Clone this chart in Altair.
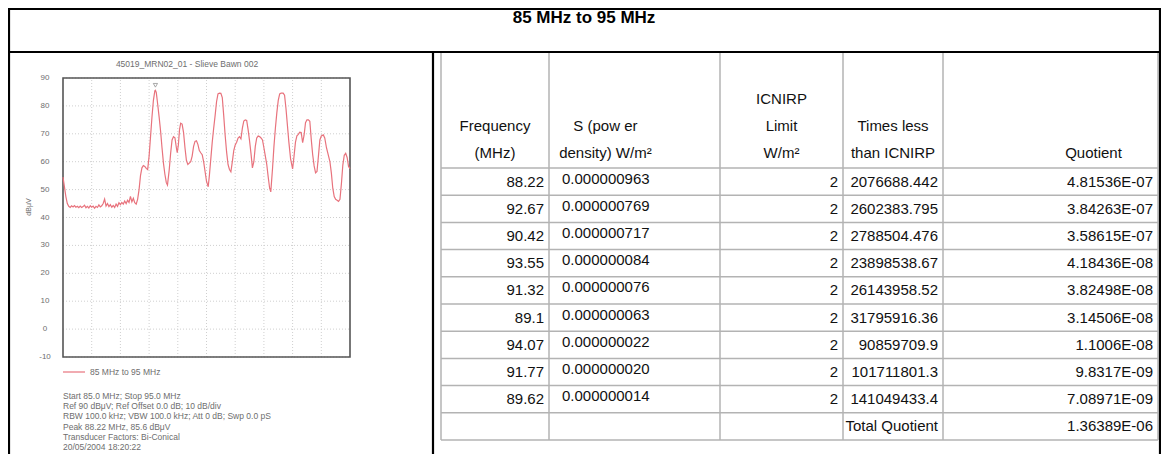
import altair as alt
import pandas as pd

# ---------------- spectrum trace ----------------
freq_mhz = [
    85.00, 85.05, 85.10, 85.15, 85.20, 85.25, 85.30, 85.35, 85.40, 85.45,
    85.50, 85.55, 85.60, 85.65, 85.70, 85.75, 85.80, 85.85, 85.90, 85.95,
    86.00, 86.05, 86.10, 86.15, 86.20, 86.25, 86.30, 86.35, 86.40, 86.45,
    86.50, 86.55, 86.60, 86.65, 86.70, 86.75, 86.80, 86.85, 86.90, 86.95,
    87.00, 87.05, 87.10, 87.15, 87.20, 87.25, 87.30, 87.35, 87.40, 87.45,
    87.50, 87.55, 87.60, 87.65, 87.70, 87.75, 87.80, 87.85, 87.90, 87.95,
    88.00, 88.05, 88.10, 88.15, 88.20, 88.22, 88.25, 88.30, 88.35, 88.40,
    88.45, 88.50, 88.55, 88.60, 88.64, 88.70, 88.75, 88.80, 88.85, 88.90,
    88.95, 88.98, 89.02, 89.06, 89.10, 89.15, 89.20, 89.25, 89.30, 89.35,
    89.40, 89.45, 89.50, 89.55, 89.60, 89.65, 89.70, 89.75, 89.80, 89.85,
    89.90, 89.95, 90.00, 90.06, 90.10, 90.15, 90.20, 90.25, 90.30, 90.35,
    90.40, 90.45, 90.50, 90.55, 90.60, 90.65, 90.70, 90.75, 90.80, 90.85,
    90.90, 90.95, 91.00, 91.05, 91.10, 91.15, 91.20, 91.25, 91.30, 91.35,
    91.40, 91.45, 91.50, 91.55, 91.60, 91.65, 91.70, 91.75, 91.80, 91.85,
    91.90, 91.95, 92.00, 92.05, 92.10, 92.15, 92.20, 92.24, 92.30, 92.35,
    92.40, 92.45, 92.50, 92.55, 92.60, 92.67, 92.72, 92.77, 92.82, 92.87,
    92.93, 93.00, 93.05, 93.10, 93.15, 93.20, 93.25, 93.30, 93.35, 93.40,
    93.45, 93.50, 93.55, 93.60, 93.65, 93.70, 93.75, 93.80, 93.85, 93.90,
    93.95, 94.00, 94.07, 94.12, 94.18, 94.24, 94.30, 94.35, 94.40, 94.45,
    94.50, 94.55, 94.60, 94.65, 94.70, 94.75, 94.80, 94.85, 94.90, 94.95,
    95.00,
]
level_dbuv = [
    54.5, 51.0, 47.5, 45.0, 44.0, 43.6, 44.2, 43.8, 44.3, 43.7,
    44.0, 43.5, 44.1, 43.6, 43.9, 44.4, 43.5, 44.0, 43.4, 44.2,
    43.7, 44.1, 43.3, 44.0, 43.6, 44.5, 43.8, 44.2, 45.0, 46.6,
    44.1, 45.0, 43.9, 44.6, 43.7, 44.3, 43.6, 44.8, 44.0, 45.3,
    44.6, 45.4, 44.8, 45.9, 45.0, 46.2, 45.4, 47.6, 45.6, 46.9,
    45.3, 44.8, 46.5, 50.0, 55.0, 57.8, 58.6, 58.3, 57.6, 57.2,
    62.0, 69.0, 76.0, 82.0, 85.4, 85.6, 84.8, 80.5, 76.0, 71.0,
    65.0, 59.5, 55.5, 52.5, 51.6, 57.0, 63.0, 67.8, 69.0, 68.6,
    65.0, 63.2, 66.0, 71.5, 73.8, 73.5, 70.5, 65.0, 60.5, 59.0,
    59.5, 60.0, 62.0, 65.5, 67.3, 67.5, 66.2, 64.0, 63.2, 62.5,
    60.0, 56.5, 53.0, 51.0, 55.0, 61.0, 67.0, 72.0, 76.5, 81.5,
    84.3, 84.6, 84.5, 83.0, 76.5, 69.5, 63.5, 59.0, 57.2, 56.4,
    60.0, 64.0, 66.0, 67.0, 68.5, 69.0, 68.2, 72.0, 74.6, 75.0,
    74.8, 71.5, 67.5, 63.0, 57.8, 60.0, 65.5, 68.5, 69.2, 69.0,
    68.5, 67.8, 65.0, 62.0, 59.0, 54.5, 50.5, 49.2, 57.5, 65.5,
    72.0, 77.5, 82.0, 84.3, 84.6, 84.6, 83.8, 79.0, 73.0, 67.0,
    61.0, 57.4, 62.0, 67.0, 69.3, 69.8, 70.6, 70.5, 66.8, 69.5,
    74.0, 75.0, 75.0, 74.5, 68.0, 62.5, 58.5, 56.0, 56.5, 62.0,
    67.8, 69.2, 69.6, 68.5, 65.0, 62.5, 60.0, 56.0, 50.5, 47.5,
    46.5, 46.2, 45.8, 46.5, 52.0, 58.8, 62.3, 63.0, 61.5, 58.3,
    57.5,
]
peak_freq = [88.22]
peak_level = [85.6]
freq_start, freq_stop = 85.0, 95.0
level_bottom, level_top = -10, 90
level_ticks = [-10, 0, 10, 20, 30, 40, 50, 60, 70, 80, 90]
level_tick_labels = ["-10", "0", "10", "20", "30", "40", "50", "60", "70", "80", "90"]
freq_grid = [86, 87, 88, 89, 90, 91, 92, 93, 94]

page_title = "85 MHz to 95 MHz"
series_name = "85 MHz to 95 MHz"
plot_title = "45019_MRN02_01 - Slieve Bawn 002"
y_title = "dBμV"
info_lines = [
    "Start 85.0 MHz; Stop 95.0 MHz",
    "Ref 90 dBμV; Ref Offset 0.0 dB; 10 dB/div",
    "RBW 100.0 kHz; VBW 100.0 kHz; Att 0 dB; Swp 0.0 pS",
    "Peak 88.22 MHz, 85.6 dBμV",
    "Transducer Factors: Bi-Conical",
    "20/05/2004 18:20:22",
]

# ---------------- table ----------------
header_col1 = ["", "Frequency", "(MHz)"]
header_col2 = ["", "S (pow er", "density) W/m²"]
header_col3 = ["ICNIRP", "Limit", "W/m²"]
header_col4 = ["", "Times less", "than ICNIRP"]
header_col5 = ["", "", "Quotient"]
tbl_freq = ["88.22", "92.67", "90.42", "93.55", "91.32", "89.1", "94.07", "91.77", "89.62"]
tbl_density = ["0.000000963", "0.000000769", "0.000000717", "0.000000084", "0.000000076",
               "0.000000063", "0.000000022", "0.000000020", "0.000000014"]
tbl_limit = ["2", "2", "2", "2", "2", "2", "2", "2", "2"]
tbl_times = ["2076688.442", "2602383.795", "2788504.476", "23898538.67", "26143958.52",
             "31795916.36", "90859709.9", "101711801.3", "141049433.4"]
tbl_quot = ["4.81536E-07", "3.84263E-07", "3.58615E-07", "4.18436E-08", "3.82498E-08",
            "3.14506E-08", "1.1006E-08", "9.8317E-09", "7.08971E-09"]
total_label = "Total Quotient"
total_quot = "1.36389E-06"

# ---------------- layout (pixels of the reference picture) ----------------
OFF = 8
W, H = 1153, 446
FONT = "Liberation Sans"
LINE_COLOR = "#e8737d"
GREY_TXT = "#6e6e6e"


def px(v):
    return v - OFF


one = pd.DataFrame({"k": [0]})

xs = alt.Scale(domain=[freq_start, freq_stop], range=[px(63), px(350)], nice=False, zero=False)
ys = alt.Scale(domain=[level_bottom, level_top], range=[px(357), px(78)], nice=False, zero=False)

col_edges = [441, 549, 720, 843, 943, 1158]
tx = alt.Scale(domain=list(range(len(col_edges))), range=[px(v) for v in col_edges],
               nice=False, zero=False)
row_edges = [52, 168, 440]
ty = alt.Scale(domain=[-1, 0, 10], range=[px(v) for v in row_edges], nice=False, zero=False)
header_line_units = [(p - 168) / 116 for p in (99, 126, 153)]
header_anchor = [0.5, 1.33, 2.5, 3.5, 4.7]

layers = []

# --- spectrum grid
grid_h = pd.DataFrame({"v": level_ticks, "a": freq_start, "b": freq_stop})
layers.append(
    alt.Chart(grid_h).mark_rule(color="#cfcfcf", strokeDash=[1, 2], strokeWidth=1).encode(
        y=alt.Y("v:Q", scale=ys, axis=None),
        x=alt.X("a:Q", scale=xs, axis=None), x2="b:Q")
)
grid_v = pd.DataFrame({"f": freq_grid, "a": level_bottom, "b": level_top})
layers.append(
    alt.Chart(grid_v).mark_rule(color="#cfcfcf", strokeDash=[1, 2], strokeWidth=1).encode(
        x=alt.X("f:Q", scale=xs, axis=None),
        y=alt.Y("a:Q", scale=ys, axis=None), y2="b:Q")
)
# --- plot box
box = pd.DataFrame({"x0": [freq_start], "x1": [freq_stop], "y0": [level_bottom], "y1": [level_top]})
layers.append(
    alt.Chart(box).mark_rect(fill="transparent", stroke="#555555", strokeWidth=1.6).encode(
        x=alt.X("x0:Q", scale=xs, axis=None), x2="x1:Q",
        y=alt.Y("y0:Q", scale=ys, axis=None), y2="y1:Q")
)
# --- trace
trace = pd.DataFrame({"f": freq_mhz, "l": level_dbuv})
layers.append(
    alt.Chart(trace).mark_line(color=LINE_COLOR, strokeWidth=1.2).encode(
        x=alt.X("f:Q", scale=xs, axis=None),
        y=alt.Y("l:Q", scale=ys, axis=None), order="f:Q")
)
# --- peak marker
peak = pd.DataFrame({"f": peak_freq, "l": peak_level})
layers.append(
    alt.Chart(peak).mark_point(shape="triangle-down", size=18, filled=False, color="#666666",
                               strokeWidth=0.8, yOffset=-5).encode(
        x=alt.X("f:Q", scale=xs, axis=None),
        y=alt.Y("l:Q", scale=ys, axis=None))
)
# --- y tick labels
ticks = pd.DataFrame({"v": level_ticks, "t": level_tick_labels})
layers.append(
    alt.Chart(ticks).mark_text(font=FONT, fontSize=8, color=GREY_TXT, align="center",
                               baseline="middle").encode(
        y=alt.Y("v:Q", scale=ys, axis=None), x=alt.value(px(45)), text="t:N")
)
# --- y title
layers.append(
    alt.Chart(one).mark_text(text=y_title, font=FONT, fontSize=7, color=GREY_TXT, angle=270,
                             align="center", baseline="middle").encode(
        x=alt.value(px(29)), y=alt.value(px(207)))
)
# --- plot title
layers.append(
    alt.Chart(one).mark_text(text=plot_title, font=FONT, fontSize=8.5, color=GREY_TXT,
                             align="center", baseline="middle").encode(
        x=alt.value(px(187)), y=alt.value(px(64)))
)
# --- legend
layers.append(
    alt.Chart(one).mark_rule(color=LINE_COLOR, strokeWidth=1.2).encode(
        x=alt.value(px(63)), x2=alt.value(px(85)), y=alt.value(px(372)))
)
layers.append(
    alt.Chart(one).mark_text(text=series_name, font=FONT, fontSize=8.5, color=GREY_TXT,
                             align="left", baseline="middle").encode(
        x=alt.value(px(90)), y=alt.value(px(372)))
)
# --- info lines
info = pd.DataFrame({"i": list(range(len(info_lines))), "t": info_lines})
layers.append(
    alt.Chart(info).mark_text(font=FONT, fontSize=8.5, color=GREY_TXT, align="left",
                              baseline="middle").encode(
        y=alt.Y("i:Q", scale=alt.Scale(domain=[0, len(info_lines) - 1],
                                       range=[px(396), px(447)], nice=False, zero=False),
                axis=None),
        x=alt.value(px(63)), text="t:N")
)

# --- table grid
vgrid = pd.DataFrame({"c": list(range(len(col_edges))), "r0": -1, "r1": 10})
layers.append(
    alt.Chart(vgrid).mark_rule(color="#b3b3b3", strokeWidth=1.5).encode(
        x=alt.X("c:Q", scale=tx, axis=None),
        y=alt.Y("r0:Q", scale=ty, axis=None), y2="r1:Q")
)
hgrid = pd.DataFrame({"r": list(range(-1, 11)), "c0": 0, "c1": len(col_edges) - 1})
layers.append(
    alt.Chart(hgrid).mark_rule(color="#b3b3b3", strokeWidth=1.5).encode(
        y=alt.Y("r:Q", scale=ty, axis=None),
        x=alt.X("c0:Q", scale=tx, axis=None), x2="c1:Q")
)

# --- header texts
hdr_rows = []
for ci, lines in enumerate([header_col1, header_col2, header_col3, header_col4, header_col5]):
    for li, t in enumerate(lines):
        if t:
            hdr_rows.append({"c": header_anchor[ci], "r": header_line_units[li], "t": t})
hdr = pd.DataFrame(hdr_rows)
layers.append(
    alt.Chart(hdr).mark_text(font=FONT, fontSize=15, color="#111111", align="center",
                             baseline="middle").encode(
        x=alt.X("c:Q", scale=tx, axis=None),
        y=alt.Y("r:Q", scale=ty, axis=None), text="t:N")
)

# --- body texts (right aligned at the right edge of their column)
right_rows = []
for ri in range(len(tbl_freq)):
    right_rows.append({"c": 1, "r": ri + 0.5, "t": tbl_freq[ri]})
    right_rows.append({"c": 3, "r": ri + 0.5, "t": tbl_limit[ri]})
    right_rows.append({"c": 4, "r": ri + 0.5, "t": tbl_times[ri]})
    right_rows.append({"c": 5, "r": ri + 0.5, "t": tbl_quot[ri]})
right_rows.append({"c": 4, "r": len(tbl_freq) + 0.5, "t": total_label})
right_rows.append({"c": 5, "r": len(tbl_freq) + 0.5, "t": total_quot})
body_r = pd.DataFrame(right_rows)
layers.append(
    alt.Chart(body_r).mark_text(font=FONT, fontSize=15, color="#111111", align="right",
                                baseline="middle", dx=-5).encode(
        x=alt.X("c:Q", scale=tx, axis=None),
        y=alt.Y("r:Q", scale=ty, axis=None), text="t:N")
)
body_l = pd.DataFrame({"c": 1, "r": [i + 0.5 for i in range(len(tbl_density))], "t": tbl_density})
layers.append(
    alt.Chart(body_l).mark_text(font=FONT, fontSize=15, color="#111111", align="left",
                                baseline="middle", dx=13, dy=-3).encode(
        x=alt.X("c:Q", scale=tx, axis=None),
        y=alt.Y("r:Q", scale=ty, axis=None), text="t:N")
)

# --- page title and black frame
layers.append(
    alt.Chart(one).mark_text(text=page_title, font=FONT, fontSize=17, fontWeight="bold",
                             color="#000000", align="center", baseline="middle").encode(
        x=alt.value(px(584)), y=alt.value(px(18)))
)
frame = [
    dict(x=alt.value(0), x2=alt.value(W), y=alt.value(1)),
    dict(x=alt.value(0), x2=alt.value(W), y=alt.value(px(52))),
    dict(x=alt.value(1), y=alt.value(0), y2=alt.value(H)),
    dict(x=alt.value(W - 1), y=alt.value(0), y2=alt.value(H)),
    dict(x=alt.value(px(433)), y=alt.value(px(52)), y2=alt.value(H)),
]
for enc in frame:
    layers.append(alt.Chart(one).mark_rule(color="#000000", strokeWidth=2.2).encode(**enc))

chart = alt.layer(*layers).resolve_scale(x="independent", y="independent").properties(
    width=W, height=H, padding=0,
    autosize=alt.AutoSizeParams(type="none"),
    background="white",
).configure_view(stroke="transparent")

chart.save("out.html", embed_options={"renderer": "svg", "actions": False})
